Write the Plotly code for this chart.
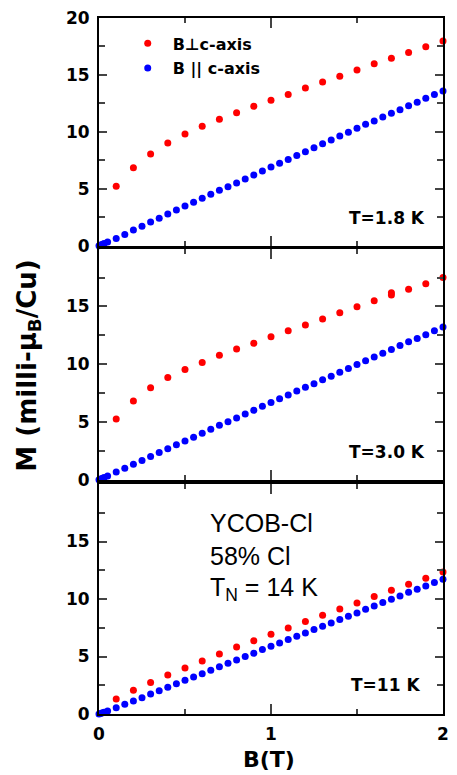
import plotly.graph_objects as go

# ---------------- data ----------------
B_red = [0.1, 0.2, 0.3, 0.4, 0.5, 0.6, 0.7, 0.8, 0.9, 1.0,
         1.1, 1.2, 1.3, 1.4, 1.5, 1.6, 1.7, 1.8, 1.9, 2.0]
B_red2 = [0.1, 0.2, 0.3, 0.4, 0.5, 0.6, 0.7, 0.8, 0.9, 1.0,
          1.1, 1.2, 1.3, 1.4, 1.5, 1.6, 1.7, 1.7, 1.8, 1.9, 2.0]
B_blue = [0.0, 0.01, 0.02, 0.03, 0.05,
          0.1, 0.15, 0.2, 0.25, 0.3, 0.35, 0.4, 0.45, 0.5, 0.55,
          0.6, 0.65, 0.7, 0.75, 0.8, 0.85, 0.9, 0.95, 1.0, 1.05,
          1.1, 1.15, 1.2, 1.25, 1.3, 1.35, 1.4, 1.45, 1.5, 1.55,
          1.6, 1.65, 1.7, 1.75, 1.8, 1.85, 1.9, 1.95, 2.0]

# T = 1.8 K
M_perp_18 = [5.21, 6.85, 8.05, 9.02, 9.81, 10.48, 11.10, 11.68, 12.24, 12.77,
             13.29, 13.85, 14.38, 14.88, 15.43, 15.99, 16.46, 16.98, 17.48, 17.98]
M_par_18 = [0.0, 0.05, 0.12, 0.18, 0.32,
            0.64, 0.99, 1.38, 1.70, 2.08, 2.40, 2.78, 3.13, 3.48, 3.81,
            4.16, 4.51, 4.86, 5.18, 5.51, 5.86, 6.21, 6.56, 6.91, 7.23,
            7.58, 7.91, 8.26, 8.61, 8.96, 9.28, 9.63, 9.96, 10.31, 10.66,
            10.95, 11.30, 11.63, 11.95, 12.30, 12.59, 12.94, 13.27, 13.59]

# T = 3.0 K
M_perp_30 = [5.25, 6.80, 7.96, 8.84, 9.54, 10.15, 10.76, 11.32, 11.81, 12.37,
             12.89, 13.39, 13.91, 14.44, 14.96, 15.49, 15.98, 16.19, 16.48, 16.97, 17.50]
M_par_30 = [0.0, 0.05, 0.12, 0.18, 0.32,
            0.67, 0.99, 1.34, 1.66, 2.01, 2.36, 2.68, 3.03, 3.35, 3.67,
            4.02, 4.37, 4.70, 5.02, 5.34, 5.69, 6.01, 6.36, 6.68, 7.00,
            7.32, 7.67, 7.99, 8.31, 8.66, 8.95, 9.30, 9.62, 9.97, 10.29,
            10.62, 10.94, 11.26, 11.61, 11.93, 12.22, 12.54, 12.89, 13.21]

# T = 11 K
M_perp_11 = [1.31, 2.06, 2.73, 3.40, 4.00, 4.61, 5.22, 5.83, 6.36, 6.94,
             7.49, 8.04, 8.59, 9.14, 9.66, 10.21, 10.77, 11.29, 11.81, 12.36]
M_par_11 = [0.0, 0.04, 0.1, 0.15, 0.27,
            0.55, 0.84, 1.13, 1.42, 1.74, 2.03, 2.32, 2.64, 2.93, 3.22,
            3.51, 3.80, 4.12, 4.41, 4.70, 4.99, 5.28, 5.60, 5.89, 6.18,
            6.47, 6.76, 7.05, 7.34, 7.63, 7.92, 8.21, 8.50, 8.79, 9.11,
            9.40, 9.69, 9.98, 10.27, 10.59, 10.85, 11.14, 11.43, 11.72]

temps = ["T=1.8 K", "T=3.0 K", "T=11 K"]
x_ticks = [0, 1, 2]
y_ticks_top = [0, 5, 10, 15, 20]
y_ticks = [0, 5, 10, 15]

RED = "#ff0000"
BLUE = "#0000ff"
BOLD = "DejaVu Sans"

fig = go.Figure()

panels = [
    (B_red, M_perp_18, M_par_18, "x", "y"),
    (B_red2, M_perp_30, M_par_30, "x2", "y2"),
    (B_red, M_perp_11, M_par_11, "x3", "y3"),
]
for i, (br, mp, mq, xa, ya) in enumerate(panels):
    fig.add_trace(go.Scatter(x=br, y=mp, mode="markers", xaxis=xa, yaxis=ya,
                             marker=dict(color=RED, size=7), cliponaxis=False,
                             name="B\u22a5c-axis", legendgroup="perp",
                             showlegend=(i == 0)))
    fig.add_trace(go.Scatter(x=B_blue, y=mq, mode="markers", xaxis=xa, yaxis=ya,
                             marker=dict(color=BLUE, size=7), cliponaxis=False,
                             name="B || c-axis", legendgroup="par",
                             showlegend=(i == 0)))

doms = [[0.6729, 1.0], [0.3367, 0.6686], [0.0, 0.3304]]
for i in range(3):
    sfx = "" if i == 0 else str(i + 1)
    fig.layout["xaxis" + sfx] = dict(
        domain=[0, 1], range=[0, 2], anchor="y" + sfx,
        tickvals=x_ticks, ticks="inside", ticklen=10, tickwidth=2,
        showticklabels=(i == 2), showline=True, linewidth=2, linecolor="black",
        mirror="ticks", showgrid=False, zeroline=False,
        minor=dict(ticks="inside", ticklen=5, tickwidth=2, dtick=0.5, showgrid=False),
        tickfont=dict(family=BOLD, size=17, color="black", weight="bold"),
        ticklabelstandoff=4, ticklabeloverflow="allow",
    )
    fig.layout["yaxis" + sfx] = dict(
        domain=doms[i], range=[0, 20], anchor="x" + sfx,
        tickvals=y_ticks_top if i == 0 else y_ticks,
        ticks="inside", ticklen=8, tickwidth=2,
        showline=True, linewidth=2, linecolor="black",
        mirror="ticks", showgrid=False, zeroline=False,
        minor=dict(ticks="inside", ticklen=6, tickwidth=2, dtick=2.5, showgrid=False),
        tickfont=dict(family=BOLD, size=17, color="black", weight="bold"),
        ticklabelstandoff=4, ticklabeloverflow="allow",
    )

annotations = []
t_pos = [(0.954, 0.713), (0.954, 0.376), (0.94, 0.0416)]
for txt, (ax, ay) in zip(temps, t_pos):
    annotations.append(dict(text=txt, x=ax, y=ay, xref="paper", yref="paper",
                            xanchor="right", yanchor="middle", showarrow=False,
                            font=dict(family=BOLD, size=17, color="black", weight="bold")))
for txt, ay in [("YCOB-Cl", 0.274), ("58% Cl", 0.2267), ("T<sub>N</sub> = 14 K", 0.179)]:
    annotations.append(dict(text=txt, x=0.317, y=ay, xref="paper", yref="paper",
                            xanchor="left", yanchor="middle", showarrow=False,
                            font=dict(family="Liberation Sans", size=25, color="black")))
annotations.append(dict(text="M (milli-\u03bc<sub>B</sub>/Cu)", x=-0.206, y=0.5007,
                        xref="paper", yref="paper", textangle=-90, showarrow=False,
                        xanchor="center", yanchor="middle",
                        font=dict(family=BOLD, size=26, color="black", weight="bold")))
annotations.append(dict(text="B(T)", x=0.494, y=-0.066, xref="paper", yref="paper",
                        showarrow=False, xanchor="center", yanchor="middle",
                        font=dict(family=BOLD, size=22, color="black", weight="bold")))

fig.update_layout(
    width=457, height=775,
    margin=dict(l=99, r=8, t=17, b=61),
    paper_bgcolor="white", plot_bgcolor="white",
    annotations=annotations,
    showlegend=True,
    legend=dict(x=0.069, y=0.988, xanchor="left", yanchor="top",
                bgcolor="rgba(0,0,0,0)", borderwidth=0, tracegroupgap=1,
                itemwidth=40,
                font=dict(family=BOLD, size=16, color="black", weight="bold")),
)

fig.write_html("out.html", config={"displayModeBar": False},
               post_script="document.body.style.margin='0';")
